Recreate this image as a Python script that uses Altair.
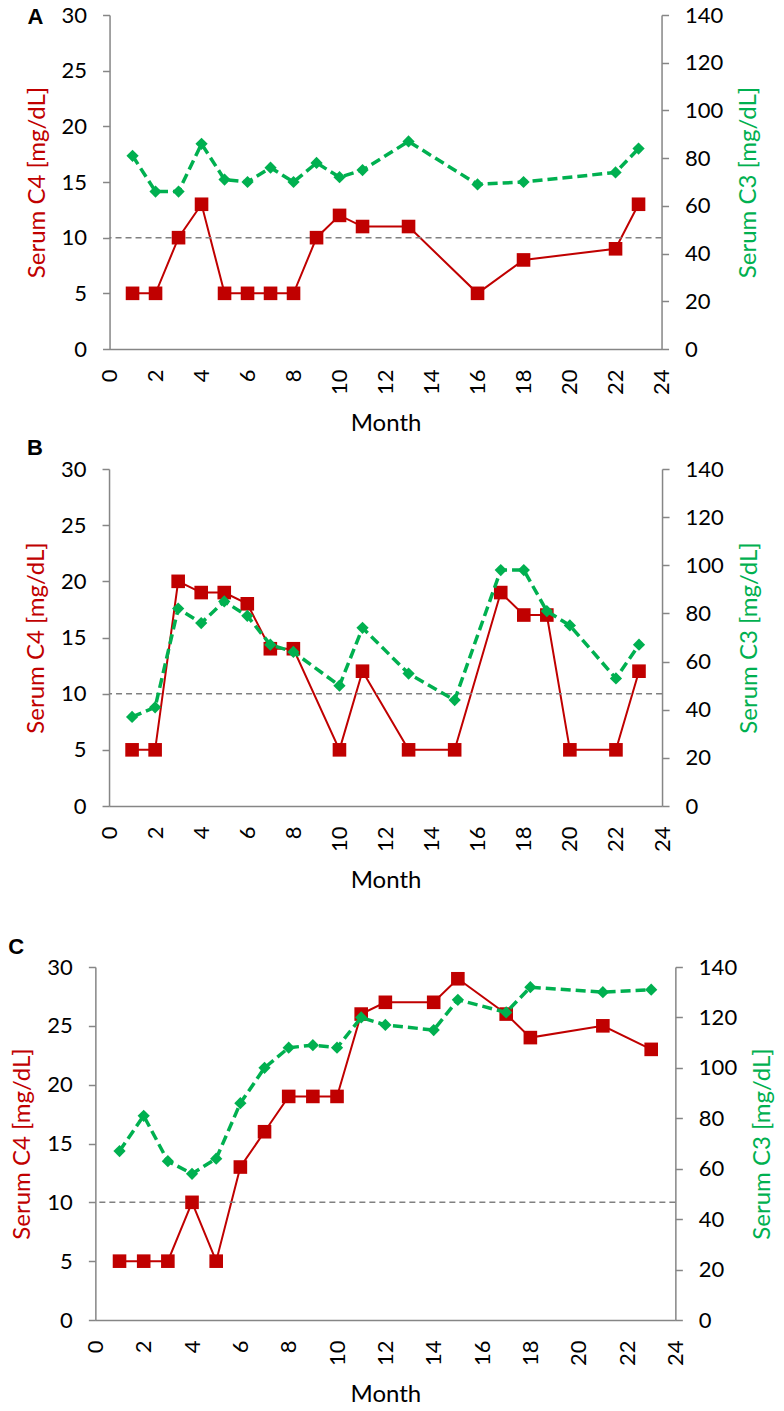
import altair as alt
import pandas as pd

# ---------------- data ----------------
A_MONTHS = [1, 2, 3, 4, 5, 6, 7, 8, 9, 10, 11, 13, 16, 18, 22, 23]
A_C4 = [5, 5, 10, 13, 5, 5, 5, 5, 10, 12, 11, 11, 5, 8, 9, 13]
A_C3 = [81, 66, 66, 86, 71, 70, 76, 70, 78, 72, 75, 87, 69, 70, 74, 84]

B_MONTHS = [1, 2, 3, 4, 5, 6, 7, 8, 10, 11, 13, 15, 17, 18, 19, 20, 22, 23]
B_C4 = [5, 5, 20, 19, 19, 18, 14, 14, 5, 12, 5, 5, 19, 17, 17, 5, 5, 12]
B_C3 = [37, 41, 82, 76, 85, 79, 67, 64, 50, 74, 55, 44, 98, 98, 81, 75, 53, 67]

C_MONTHS = [1, 2, 3, 4, 5, 6, 7, 8, 9, 10, 11, 12, 14, 15, 17, 18, 21, 23]
C_C4 = [5, 5, 5, 10, 5, 13, 16, 19, 19, 19, 26, 27, 27, 29, 26, 24, 25, 23]
C_C3 = [67, 81, 63, 58, 64, 86, 100, 108, 109, 108, 120, 117, 115, 127, 122, 132, 130, 131]

X_TICKS = [0, 2, 4, 6, 8, 10, 12, 14, 16, 18, 20, 22, 24]
C4_TICKS = [0, 5, 10, 15, 20, 25, 30]
C3_TICKS = [0, 20, 40, 60, 80, 100, 120, 140]
THRESHOLD = [10]
PANEL_LABELS = ["A", "B", "C"]

RED = "#C00000"
GREEN = "#00B050"
GRAY = "#868686"
FONT = "Lato"


def panel(label, months, c4, c3, width, height, lab_dx, lab_dy):
    df = pd.DataFrame({"Month": months, "C4": c4, "C3": c3})
    base = alt.Chart(df)

    x = alt.X(
        "Month:Q",
        scale=alt.Scale(domain=[0, 24], nice=False, zero=False),
        axis=alt.Axis(
            values=X_TICKS, labelAngle=270, labelAlign="right",
            labelBaseline="middle", ticks=False, labelPadding=20,
            title="Month", titlePadding=17,
        ),
    )
    c4_scale = alt.Scale(domain=[0, 30], nice=False)
    c4_axis = alt.Axis(
        orient="left", values=C4_TICKS, title="Serum C4 [mg/dL]",
        titleColor=RED, titlePadding=12,
    )
    y4 = alt.Y("C4:Q", scale=c4_scale, axis=c4_axis)
    y3 = alt.Y(
        "C3:Q", scale=alt.Scale(domain=[0, 140], nice=False),
        axis=alt.Axis(
            orient="right", values=C3_TICKS, title="Serum C3 [mg/dL]",
            titleColor=GREEN, titleAngle=270, titleBaseline="top",
            titlePadding=14,
        ),
    )

    thr = alt.Chart(pd.DataFrame({"v": THRESHOLD})).mark_rule(
        color="#808080", strokeDash=[6, 4], strokeWidth=1.5
    ).encode(y=alt.Y("v:Q", scale=c4_scale, axis=c4_axis))

    c4_line = base.mark_line(color=RED, strokeWidth=2).encode(x=x, y=y4)
    c4_pts = base.mark_point(
        shape="square", filled=True, size=185, color=RED, opacity=1
    ).encode(x=x, y=y4)

    c3_line = base.mark_line(
        color=GREEN, strokeWidth=3.5, strokeDash=[10, 5]
    ).encode(x=x, y=y3)
    c3_pts = base.mark_point(
        shape="diamond", filled=True, size=150, color=GREEN, opacity=1
    ).encode(x=x, y=y3)

    lab = alt.Chart(pd.DataFrame({"t": [label]})).mark_text(
        font="Liberation Sans", fontWeight="bold", fontSize=22,
        align="left", baseline="top", color="black",
    ).encode(text="t:N", x=alt.value(lab_dx), y=alt.value(lab_dy))

    left = alt.layer(c4_line, thr, c4_pts)
    right = alt.layer(c3_line, c3_pts)
    return alt.layer(left, right, lab).resolve_scale(y="independent").properties(
        width=width, height=height
    )


pA = panel(PANEL_LABELS[0], A_MONTHS, A_C4, A_C3, 552, 334, -82, -8)
pB = panel(PANEL_LABELS[1], B_MONTHS, B_C4, B_C3, 553, 337, -82, -31)
pC = panel(PANEL_LABELS[2], C_MONTHS, C_C4, C_C3, 580, 353, -87, -30)

chart = alt.vconcat(
    alt.vconcat(pA, pB, spacing=1, center=True),
    pC,
    spacing=43,
    center=True,
).properties(
    padding={"left": 0, "top": -4, "right": 0, "bottom": 0}
).configure_view(
    stroke=None
).configure_axis(
    grid=False,
    domainColor=GRAY,
    domainWidth=1.5,
    tickColor=GRAY,
    tickWidth=1.5,
    tickSize=7,
    labelFont=FONT,
    labelFontSize=22,
    labelColor="black",
    labelPadding=16,
    titleFont=FONT,
    titleFontSize=24,
    titleFontWeight="normal",
    titleColor="black",
)

chart.save("out.html", embed_options={"renderer": "svg", "actions": False})
